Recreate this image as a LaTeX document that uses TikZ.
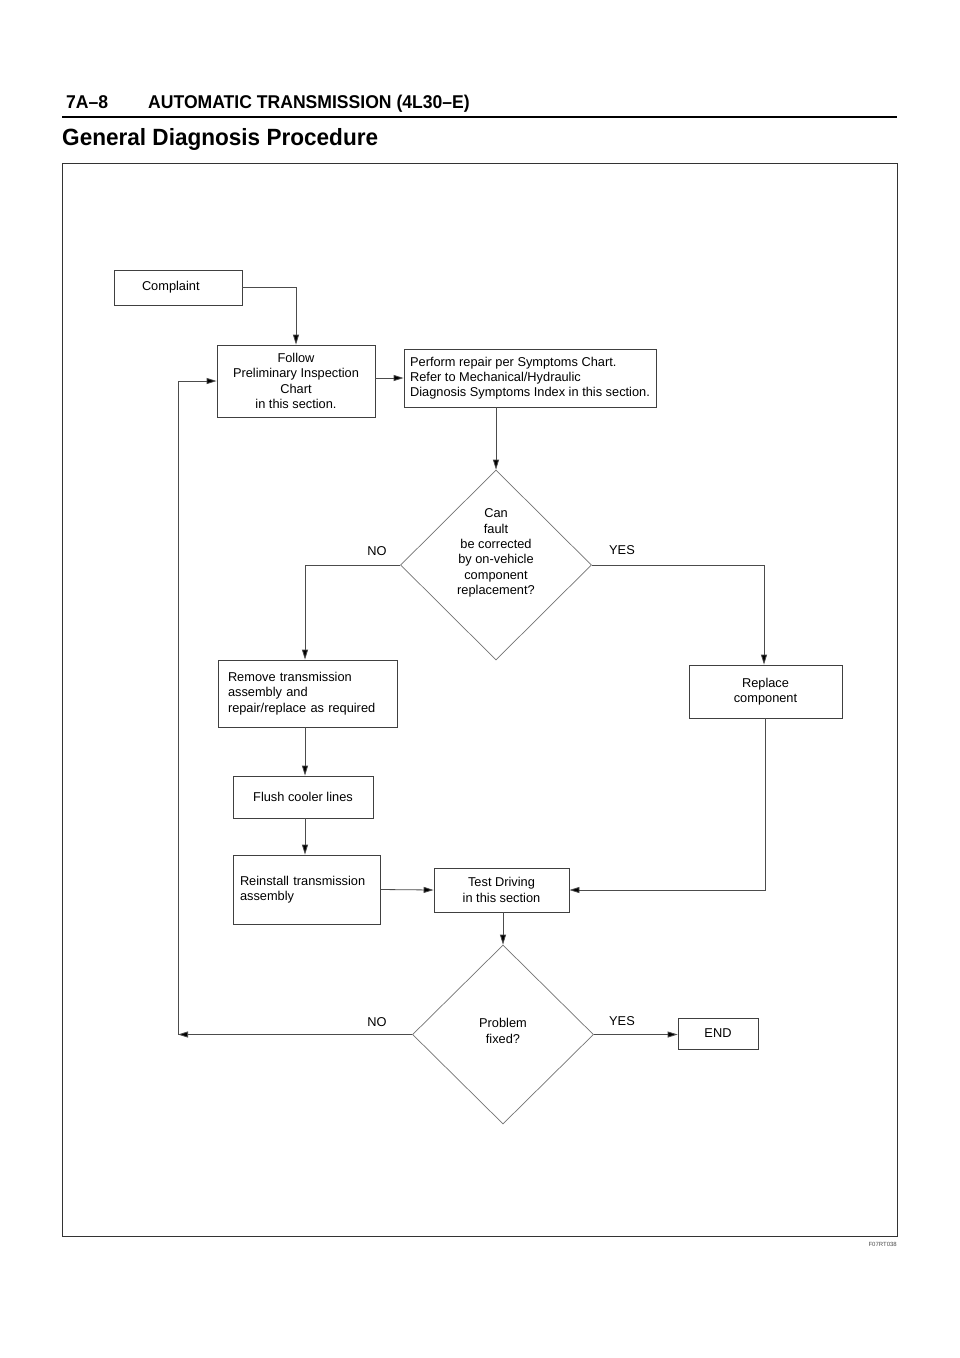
\documentclass[tikz,border=0pt]{standalone}
\usepackage{fontspec}
\setmainfont{Liberation Sans}
\newfontfamily\hdfont[FakeStretch=0.95]{Liberation Sans}
\newfontfamily\gdfont[FakeStretch=0.96]{Liberation Sans}
\usetikzlibrary{shapes.geometric,arrows.meta}
\begin{document}
\begin{tikzpicture}[x=1pt,y=-1pt,
 lbl/.style={font=\fontsize{12.8}{15.3}\selectfont},
 box/.style={draw=black!75, line width=0.8pt, rectangle, inner sep=0pt, lbl},
 lbox/.style={box, align=left},
 cbox/.style={box, align=center},
 dia/.style={draw=black!55, line width=0.7pt, diamond, inner sep=0pt, aspect=1},
 conn/.style={draw=black!70, line width=0.8pt},
 arr/.style={conn, -{Triangle[length=10pt,width=6pt,fill=black]}},
 yn/.style={lbl, inner sep=0pt},
]
\useasboundingbox (0,0) rectangle (960,1358);
\fill[white] (0,0) rectangle (960,1358);

% header
\node[anchor=base west, inner sep=0pt, font=\hdfont\bfseries\fontsize{18.5}{20}\selectfont] (pg) at (66,108) {7A–8};
\node[anchor=base west, inner sep=0pt, font=\hdfont\bfseries\fontsize{18.5}{20}\selectfont] (ttl) at (148,108) {AUTOMATIC TRANSMISSION (4L30–E)};
\draw[line width=2pt] (62,117) -- (897,117);
\node[anchor=base west, inner sep=0pt, font=\gdfont\bfseries\fontsize{23.5}{26}\selectfont] (gdp) at (62,145) {General Diagnosis Procedure};
\draw[draw=black!80, line width=1pt] (62,163) rectangle (897,1236);
\node[anchor=base east, inner sep=0pt, text=black!70, font=\fontsize{6}{7}\selectfont] (fig) at (897,1246) {F07RT038};

% boxes
\node[lbox, minimum width=128, minimum height=35, inner xsep=28pt, text width=72pt] (complaint) at (178,287.5) {Complaint};
\node[cbox, minimum width=158, minimum height=72] (follow) at (296,381) {Follow\\Preliminary Inspection\\Chart\\in this section.};
\node[lbox, minimum width=252, minimum height=58] (perform) at (530,378) {Perform repair per Symptoms Chart.\\Refer to Mechanical/Hydraulic\\Diagnosis Symptoms Index in this section.};
\node[dia, minimum width=191, minimum height=190] (d1) at (496,565) {};
\node[lbl, align=center, inner sep=0pt] (d1t) at (496,553) {Can\\fault\\be corrected\\by on-vehicle\\component\\replacement?};
\node[lbox, minimum height=67, inner xsep=10pt, text width=159pt] (remove) at (307.5,693.5) {Remove transmission\\assembly and\\repair/replace as required};
\node[cbox, minimum width=153, minimum height=53] (replace) at (765.5,691.5) {Replace\\component};
\node[cbox, minimum width=140, minimum height=42] (flush) at (303,797) {Flush cooler lines};
\node[lbox, minimum height=69, inner xsep=7pt, text width=133pt] (reinstall) at (306.5,889.5) {Reinstall transmission\\assembly};
\node[cbox, minimum width=135, minimum height=44] (test) at (501.5,890) {Test Driving\\in this section};
\node[dia, minimum width=181, minimum height=179] (d2) at (503,1034.5) {};
\node[lbl, align=center, inner sep=0pt] (d2t) at (503,1031) {Problem\\fixed?};
\node[cbox, minimum width=80, minimum height=31] (end) at (718,1033.5) {END};

% labels
\node[yn] (no1) at (377,551) {NO};
\node[yn] (yes1) at (622,550) {YES};
\node[yn] (no2) at (377,1022) {NO};
\node[yn] (yes2) at (622,1021) {YES};

% connectors
\coordinate (c305) at (305,0);
\coordinate (back) at (178,1034.5);
\draw[arr] (complaint.east) -| (follow.north);
\draw[arr] (follow.east |- perform.west) -- (perform.west);
\draw[arr] (perform.south -| d1.north) -- (d1.north);
\draw[arr] (d1.west) -| (remove.north -| c305);
\draw[arr] (d1.east) -| ([xshift=-1.5pt]replace.north);
\draw[arr] (remove.south -| c305) -- (flush.north -| c305);
\draw[arr] (flush.south -| c305) -- (reinstall.north -| c305);
\draw[arr] (reinstall.east) -- (test.west);
\draw[arr] (replace.south) |- (test.east);
\draw[arr] (test.south -| d2.north) -- (d2.north);
\draw[arr] (d2.west) -- (back);
\draw[arr] (back) |- (follow.west);
\draw[arr] (d2.east) -- (d2.east -| end.west);
\end{tikzpicture}
\end{document}
